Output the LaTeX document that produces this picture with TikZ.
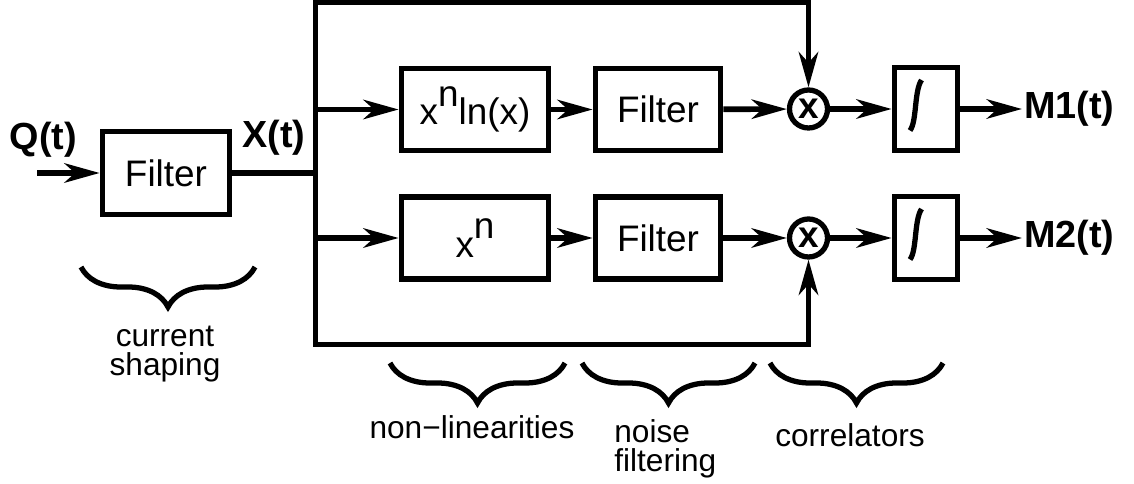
\documentclass[tikz,border=0pt]{standalone}
\usepackage{fontspec}
\setmainfont{Liberation Sans}
\usetikzlibrary{arrows.meta, positioning, calc, decorations.pathreplacing}

\begin{document}
\begin{tikzpicture}[
  sig/.style={line width=3.2pt},
  feed/.style={line width=3.2pt, -{Stealth[length=20pt, width=11pt, inset=6pt]}},
  block/.style={draw, line width=3.2pt, minimum height=1.64cm, inner sep=0pt, font=\fontsize{21}{24}\selectfont},
  mult/.style={draw, circle, line width=3pt, minimum size=0.76cm, inner sep=0pt, font=\bfseries\fontsize{21}{24}\selectfont},
  io/.style={inner sep=1pt, font=\bfseries\fontsize{21.5}{24}\selectfont},
  lbl/.style={inner sep=0pt, align=center, font=\fontsize{18}{16.5}\selectfont},
  grp/.style={line width=3pt, decorate, decoration={brace, mirror, amplitude=0.8cm}}
]
  \useasboundingbox (0,0) rectangle (22.68,-9.68);

  % Input shaping
  \node[io] (qin) at (0.87,-2.79) {Q(t)};
  \coordinate (src) at (0.74,-3.46);
  \node[block, minimum width=2.54cm, minimum height=1.66cm] (filt0) at (3.32,-3.46) {Filter};
  \node[io] (xt) at (5.48,-2.76) {X(t)};

  % Distribution bus
  \coordinate (xsplit) at (6.31,-3.46);
  \coordinate (bustop) at (6.31,-0.05);
  \coordinate (busbot) at (6.31,-6.89);

  % Upper branch
  \node[block, minimum width=2.94cm] (nl1) at (9.5,-2.19) {x\raisebox{0.5em}{n}ln(x)};
  \node[block, minimum width=2.5cm] (flt1) at (13.16,-2.19) {Filter};
  \node[mult] (mul1) at (16.17,-2.18) {x};
  \node[block, minimum width=1.26cm, minimum height=1.66cm] (int1) at (18.52,-2.18) {};
  \node[io, anchor=west] (m1) at (20.44,-2.18) {M1(t)};

  % Lower branch
  \node[block, minimum width=2.94cm] (nl2) at (9.5,-4.76) {x\raisebox{0.5em}{n}};
  \node[block, minimum width=2.5cm] (flt2) at (13.16,-4.76) {Filter};
  \node[mult] (mul2) at (16.17,-4.76) {x};
  \node[block, minimum width=1.26cm, minimum height=1.66cm] (int2) at (18.52,-4.76) {};
  \node[io, anchor=west] (m2) at (20.44,-4.76) {M2(t)};

  % Integral signs
  \foreach \i in {int1, int2}
    \draw[line width=3pt] ($(\i.center)+(-0.32,-0.43)$) .. controls ($(\i.center)+(-0.18,-0.25)$) and ($(\i.center)+(-0.24,0.35)$) .. ($(\i.center)+(-0.09,0.58)$);

  % Signal flow
  \draw[feed] (src) -- (filt0);
  \draw[sig] (filt0) -- (xsplit);
  \draw[feed] (busbot) -- (bustop) -| (mul1);
  \draw[feed] (bustop) -- (busbot) -| (mul2);
  \foreach \row in {1, 2} {
    \draw[feed] (bustop |- nl\row) -- (nl\row);
    \draw[feed] (nl\row) -- (flt\row);
    \draw[feed] (flt\row) -- (mul\row);
    \draw[feed] (mul\row) -- (int\row);
    \draw[feed] (int\row) -- (m\row);
  }

  % Stage braces
  \draw[grp] (1.62,-5.34) -- (5.1,-5.34);
  \draw[grp] (7.8,-7.26) -- (11.3,-7.26);
  \draw[grp] (11.64,-7.26) -- (15.1,-7.26);
  \draw[grp] (15.4,-7.26) -- (18.86,-7.26);

  \node[lbl] (shaping) at (3.3,-7.08) {current\\shaping};
  \node[lbl] (nonlin) at (9.44,-8.55) {non−linearities};
  \node[lbl, align=left, anchor=west] (noise) at (12.28,-8.98) {noise\\filtering};
  \node[lbl] (corr) at (17.0,-8.7) {correlators};
\end{tikzpicture}
\end{document}
